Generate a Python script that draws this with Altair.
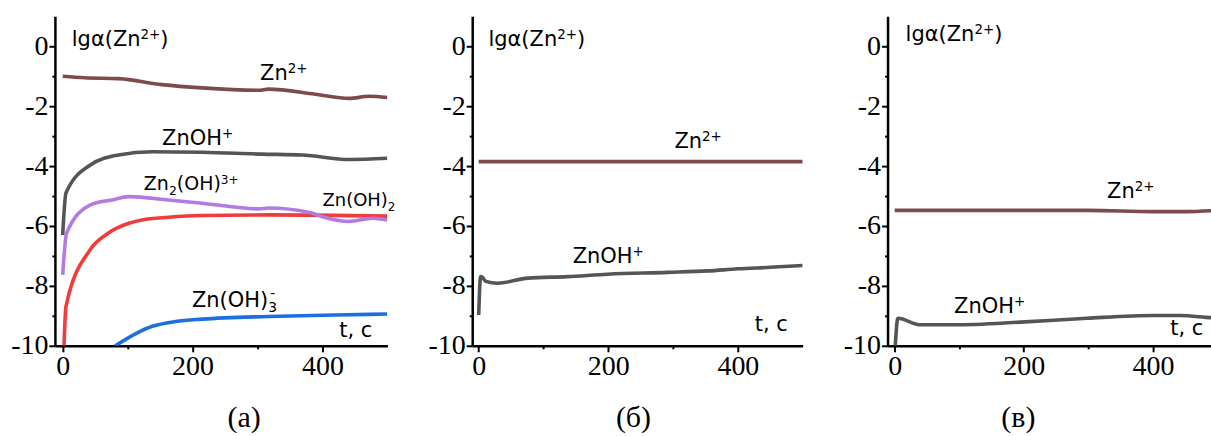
import altair as alt
import pandas as pd

# ---------- panel (а) ----------
a_zn_t = [0, 34, 86, 153, 215, 302, 317, 389, 441, 472, 500]
a_zn_v = [-1.0, -1.05, -1.08, -1.28, -1.39, -1.47, -1.43, -1.6, -1.74, -1.67, -1.71]
a_znoh_t = [0, 5, 42, 86, 138, 215, 307, 369, 441, 500]
a_znoh_v = [-6.3, -4.9, -3.97, -3.63, -3.52, -3.54, -3.6, -3.63, -3.78, -3.74]
a_zn2oh_t = [0, 6, 42, 76, 102, 163, 215, 302, 317, 380, 400, 441, 477, 500]
a_zn2oh_v = [-7.63, -6.24, -5.3, -5.13, -5.02, -5.13, -5.24, -5.43, -5.4, -5.55, -5.69, -5.85, -5.74, -5.8]
a_znoh2_t = [2, 5, 42, 70, 102, 122, 163, 215, 317, 500]
a_znoh2_v = [-10, -8.69, -6.8, -6.24, -5.91, -5.8, -5.71, -5.65, -5.63, -5.67]
a_znoh3_t = [81, 112, 138, 174, 215, 317, 420, 500]
a_znoh3_v = [-10, -9.6, -9.35, -9.19, -9.11, -9.02, -8.97, -8.94]

# ---------- panel (б) ----------
b_zn_t = [0, 500]
b_zn_v = [-3.85, -3.85]
b_znoh_t = [0, 3, 6, 11, 29, 76, 137, 199, 292, 354, 400, 450, 500]
b_znoh_v = [-8.97, -7.69, -7.72, -7.85, -7.91, -7.74, -7.69, -7.61, -7.55, -7.5, -7.43, -7.38, -7.32]

# ---------- panel (в) ----------
c_zn_t = [0, 300, 400, 450, 500]
c_zn_v = [-5.48, -5.48, -5.52, -5.52, -5.48]
c_znoh_t = [1, 5, 40, 92, 195, 298, 401, 442, 490, 500]
c_znoh_v = [-10, -9.08, -9.3, -9.3, -9.21, -9.08, -8.99, -8.99, -9.06, -9.07]

# ---------- annotations: parts (text, kind), baseline position, size ----------
LG = [("lgα(Zn", "n"), ("2+", "sup"), (")", "n")]
ZN = [("Zn", "n"), ("2+", "sup")]
ZNOH = [("ZnOH", "n"), ("+", "sup")]
ZN2OH = [("Zn", "n"), ("2", "sub"), ("(OH)", "n"), ("3+", "sup")]
ZNOH2 = [("Zn(OH)", "n"), ("2", "sub")]
ZNOH3 = [("Zn(OH)", "n"), ("3", "sub"), ("-", "supstack")]
TC = [("t, c", "n")]

a_lab_parts = [LG, ZN, ZNOH, ZN2OH, ZNOH2, ZNOH3, TC]
a_lab_t = [14, 304, 153, 125, 400, 199, 426]
a_lab_v = [0.0, -1.13, -3.3, -4.8, -5.32, -8.69, -9.69]
a_lab_fs = [21, 21, 21, 19, 18, 21, 21]

b_lab_parts = [LG, ZN, ZNOH, TC]
b_lab_t = [15, 302, 145, 426]
b_lab_v = [0.0, -3.41, -7.24, -9.52]
b_lab_fs = [21, 21, 21, 21]

c_lab_parts = [LG, ZN, ZNOH, TC]
c_lab_t = [17, 329, 92, 427]
c_lab_v = [0.17, -5.08, -8.91, -9.65]
c_lab_fs = [21, 21, 21, 21]

captions = ["(а)", "(б)", "(в)"]

COL_ZN = "#7d4b4b"
COL_ZNOH = "#555555"
COL_ZN2OH = "#b27ae2"
COL_ZNOH2 = "#f03c3c"
COL_ZNOH3 = "#1c6fe0"

SERIF = "Liberation Serif"
SANS = "DejaVu Sans"

# DejaVu Sans advance widths (em)
W = {"l": .278, "g": .635, "α": .659, "(": .390, ")": .390, "Z": .685, "n": .634,
     "O": .787, "H": .752, "2": .636, "3": .636, "+": .838, "-": .361, "t": .392,
     ",": .318, " ": .318, "c": .550}

PX_PER_V = 30.0  # 330 px / 11 units
SUP_R, SUB_R = 0.64, 0.66


def text_width(s, fs):
    return sum(W.get(ch, 0.6) for ch in s) * fs


def build_labels(parts_list, ts, vs, fss, ppu):
    rows = []
    for parts, t0, v0, fs in zip(parts_list, ts, vs, fss):
        x = 0.0
        last_x = 0.0
        for txt, kind in parts:
            if kind == "n":
                size, shift, adv = fs, 0.0, True
            elif kind == "sup":
                size, shift, adv = fs * SUP_R, 0.34 * fs, True
            elif kind == "sub":
                size, shift, adv = fs * SUB_R, -0.28 * fs, True
            else:  # superscript stacked over the previous subscript
                size, shift, adv = fs * SUP_R, 0.40 * fs, False
            px = x if kind != "supstack" else last_x + 0.1 * fs
            rows.append({"t": t0 + px / ppu, "v": v0 + shift / PX_PER_V,
                         "txt": txt, "fs": size})
            last_x = x
            if adv:
                x += text_width(txt, size)
    return pd.DataFrame(rows)


AXIS_STYLE = dict(
    grid=False, title=None, domainColor="black", domainWidth=2.5,
    tickColor="black", tickWidth=2, labelFont=SERIF, labelFontSize=28,
    labelColor="black", labelPadding=1, labelFlush=False, labelOverlap=False,
)

X_AXIS = alt.Axis(
    values=[0, 100, 200, 300, 400],
    labelExpr="datum.value % 200 == 0 ? '' + datum.value : ''",
    tickSize={"condition": {"test": "datum.value % 200 != 0", "value": 3}, "value": 6},
    **AXIS_STYLE,
)
Y_AXIS = alt.Axis(
    values=list(range(-10, 1)),
    labelExpr="datum.value % 2 == 0 ? '' + datum.value : ''",
    tickSize={"condition": {"test": "datum.value % 2 != 0", "value": 3}, "value": 6},
    labelBaseline="middle",
    **AXIS_STYLE,
)


def panel(series, parts, lt, lv, lfs, xdom, width, caption, dx):
    xs = alt.Scale(domain=xdom, nice=False, zero=False)
    ys = alt.Scale(domain=[-10, 1], nice=False, zero=False)
    ppu = width / (xdom[1] - xdom[0])
    layers = []
    for t, v, col in series:
        df = pd.DataFrame({"t": t, "v": v})
        layers.append(
            alt.Chart(df).mark_line(color=col, strokeWidth=3.6, clip=True,
                                    interpolate="monotone").encode(
                x=alt.X("t:Q", scale=xs, axis=X_AXIS),
                y=alt.Y("v:Q", scale=ys, axis=Y_AXIS),
            )
        )
    ldf = build_labels(parts, lt, lv, lfs, ppu)
    layers.append(
        alt.Chart(ldf).mark_text(align="left", baseline="alphabetic", font=SANS,
                                 color="black").encode(
            x=alt.X("t:Q", scale=xs, axis=X_AXIS),
            y=alt.Y("v:Q", scale=ys, axis=Y_AXIS),
            text="txt:N",
            size=alt.Size("fs:Q", scale=None, legend=None),
        )
    )
    return alt.layer(*layers).properties(
        width=width, height=330,
        title=alt.TitleParams(caption, orient="bottom", anchor="middle", font=SERIF,
                              fontSize=30, fontWeight="normal", color="black",
                              dx=dx, offset=22),
    )


pa = panel(
    [(a_znoh2_t, a_znoh2_v, COL_ZNOH2), (a_znoh3_t, a_znoh3_v, COL_ZNOH3),
     (a_zn2oh_t, a_zn2oh_v, COL_ZN2OH), (a_znoh_t, a_znoh_v, COL_ZNOH),
     (a_zn_t, a_zn_v, COL_ZN)],
    a_lab_parts, a_lab_t, a_lab_v, a_lab_fs, [-12, 500], 333, captions[0], 23,
)
pb = panel(
    [(b_znoh_t, b_znoh_v, COL_ZNOH), (b_zn_t, b_zn_v, COL_ZN)],
    b_lab_parts, b_lab_t, b_lab_v, b_lab_fs, [-10, 500], 331, captions[1], -4,
)
pc = panel(
    [(c_znoh_t, c_znoh_v, COL_ZNOH), (c_zn_t, c_zn_v, COL_ZN)],
    c_lab_parts, c_lab_t, c_lab_v, c_lab_fs, [-11, 490], 324, captions[2], -31,
)

chart = alt.hconcat(pa, pb, pc, spacing=85, bounds="flush").properties(
    padding={"left": 10, "top": 16, "right": 0, "bottom": 6},
    background="white",
).configure_axis(
    labelFont=SERIF, labelFontSize=28,
).configure_view(stroke=None)

chart.save("out.html", embed_options={"renderer": "svg", "actions": False})
